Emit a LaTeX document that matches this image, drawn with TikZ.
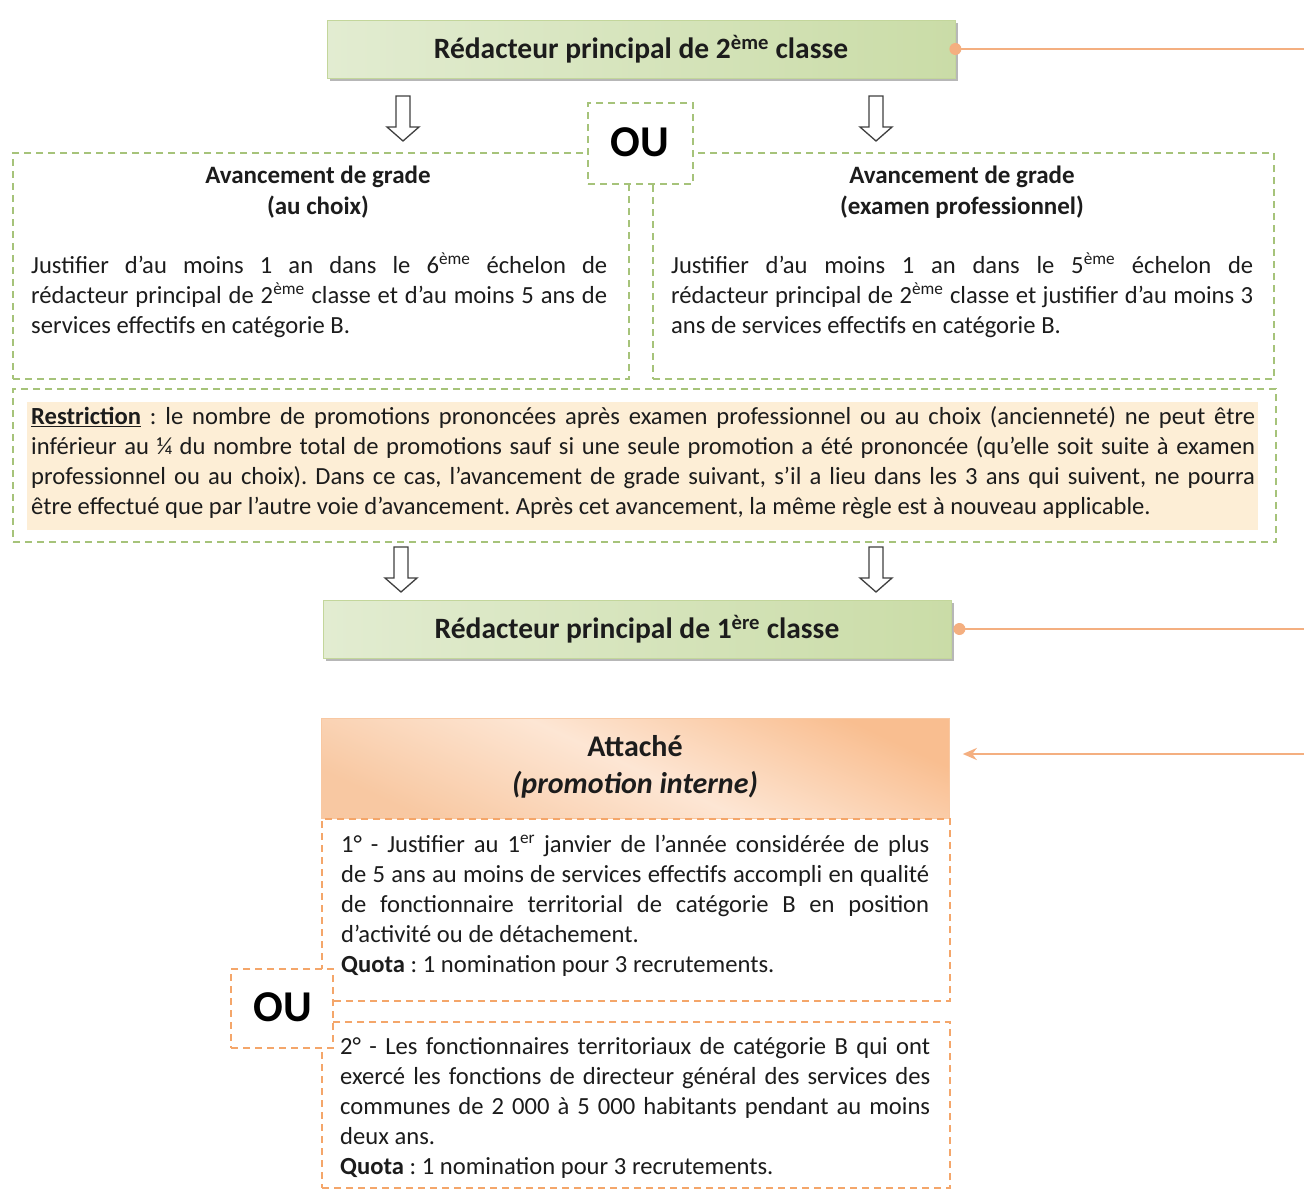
\documentclass[tikz,border=0pt]{standalone}
\usepackage{fontspec}
\setmainfont{Carlito}
\usetikzlibrary{arrows.meta,shadows}
\definecolor{gdashc}{HTML}{A6C37A}
\definecolor{odashc}{HTML}{F4A66A}
\definecolor{olinec}{HTML}{F4AF80}
\definecolor{txtc}{HTML}{1C1C1C}
\definecolor{gL}{HTML}{E2ECD1}
\definecolor{gM}{HTML}{EDF3E3}
\definecolor{gD}{HTML}{CADCA7}
\definecolor{gB}{HTML}{C3D69B}
\definecolor{oL}{HTML}{FDE6D4}
\definecolor{oD}{HTML}{F9BE90}
\definecolor{oB}{HTML}{F8C8A2}
\definecolor{restfill}{HTML}{FDEED6}
\newcommand\bodyfont{\fontsize{24.6}{30}\selectfont\frenchspacing\spaceskip=0.23em plus 1.2em minus 0.1em\relax}
\newcommand\titlefont{\fontsize{29.5}{30}\selectfont\bfseries}
\newcommand\attfont{\fontsize{30}{37}\selectfont\bfseries}
\newcommand\headfont{\fontsize{25}{31}\selectfont\bfseries}
\newcommand\oufont{\fontsize{44}{50}\selectfont\bfseries}
\tikzset{
  gframe/.style={rectangle, draw=gdashc, line width=2pt, dash pattern=on 7pt off 5pt, inner sep=0pt, anchor=north west},
  oframe/.style={rectangle, draw=odashc, line width=2pt, dash pattern=on 7pt off 5pt, inner sep=0pt, anchor=north west},
  gtitle/.style={rectangle, draw=gB, line width=0.8pt, inner sep=0pt, font=\titlefont, text=txtc,
    left color=gL, middle color=gM, right color=gD,
    drop shadow={shadow xshift=3pt, shadow yshift=-3pt, fill=black!35, opacity=0.8}},
  body/.style={font=\bodyfont, text=txtc, inner sep=0pt, align=justify, anchor=north west},
  head/.style={font=\headfont, text=txtc, inner sep=0pt, align=center},
  oline/.style={draw=olinec, line width=2.4pt},
  hollowdown/.pic={\draw[line width=1.3pt, draw=black!75, fill=white, line join=miter]
    (-7,0) -- (7,0) -- (7,31) -- (16,31) -- (0,45) -- (-16,31) -- (-7,31) -- cycle;}
}
\begin{document}
\begin{tikzpicture}[x=1pt,y=-1pt]
\useasboundingbox[fill=white] (0,0) rectangle (1304,1189);

% ---- top title
\node[gtitle, minimum width=628pt, minimum height=58pt] (r2) at (641,49)
  {Rédacteur principal de 2\textsuperscript{ème} classe};
\coordinate (r2out) at (1304,46);
\draw[oline] (r2.east) -- (r2.east -| r2out);
\fill[olinec] (r2.east) circle[radius=6pt];

% ---- arrows
\pic at (403,96) {hollowdown};
\pic at (876,96) {hollowdown};

% ---- two option boxes
\node[gframe, minimum width=616pt, minimum height=226pt] (lbox) at (12,152) {};
\node[gframe, minimum width=621pt, minimum height=226pt] (rbox) at (652,152) {};
\node[gframe, fill=white, minimum width=105pt, minimum height=81pt] (ou1) at (587,102) {};
\node[font=\oufont, text=black, inner sep=0pt] (ou1t) at (639.5,142.5) {OU};

\node[head] (lhead) at (318,192.5) {Avancement de grade\\(au choix)};
\node[head] (rhead) at (962,192.5) {Avancement de grade\\(examen professionnel)};

\node[body, text width=576pt] (ltext) at (31,252) {\strut Justifier d’au moins 1 an dans le 6\textsuperscript{ème} échelon de\linebreak
rédacteur principal de 2\textsuperscript{ème} classe et d’au moins 5 ans de\linebreak
services effectifs en catégorie B.};
\node[body, text width=582pt] (rtext) at (671,252) {\strut Justifier d’au moins 1 an dans le 5\textsuperscript{ème} échelon de\linebreak
rédacteur principal de 2\textsuperscript{ème} classe et justifier d’au moins 3\linebreak
ans de services effectifs en catégorie B.};

% ---- restriction
\node[gframe, minimum width=1263pt, minimum height=153pt] (rbox2) at (12,388) {};
\node[rectangle, fill=restfill, inner sep=0pt, minimum width=1231pt, minimum height=128pt, anchor=north west] (rfill) at (27,402) {};
\node[body, text width=1224pt] (rtxt) at (31,403) {\strut\underline{\textbf{Restriction}} : le nombre de promotions prononcées après examen professionnel ou au choix (ancienneté) ne peut être\linebreak
inférieur au ¼ du nombre total de promotions sauf si une seule promotion a été prononcée (qu’elle soit suite à examen\linebreak
professionnel ou au choix). Dans ce cas, l’avancement de grade suivant, s’il a lieu dans les 3 ans qui suivent, ne pourra\linebreak
être effectué que par l’autre voie d’avancement. Après cet avancement, la même règle est à nouveau applicable.};

\pic at (401,547) {hollowdown};
\pic at (876,547) {hollowdown};

% ---- second title
\node[gtitle, minimum width=628pt, minimum height=58pt] (r1) at (637,629)
  {Rédacteur principal de 1\textsuperscript{ère} classe};
\coordinate (r1out) at (1304,629);
\draw[oline] ([xshift=8pt]r1.east) -- (r1out);
\fill[olinec] ([xshift=8pt]r1.east) circle[radius=6pt];

% ---- attache
\node[rectangle, draw=oB, line width=0.8pt, inner sep=0pt, minimum width=628pt, minimum height=100pt,
  anchor=north west, top color=oD, bottom color=oB, middle color=oL, shading angle=-25] (att) at (321,718) {};
\node[font=\attfont, text=txtc, align=center, inner sep=0pt] (attt) at (635,766.5)
  {Attaché\\\textit{(promotion interne)}};
\coordinate (attin) at (1304,754);
\draw[oline, -{Stealth[length=14pt,width=12pt]}] (attin) -- ([xshift=13pt]attin -| att.east);

\node[oframe, minimum width=628pt, minimum height=182pt] (c1) at (321,818) {};
\node[oframe, minimum width=628pt, minimum height=166pt] (c2) at (321,1021) {};
\node[oframe, fill=white, minimum width=102pt, minimum height=79pt] (ou2) at (230,968) {};
\node[font=\oufont, text=black, inner sep=0pt] (ou2t) at (283,1007.5) {OU};

\node[body, text width=588pt] (c1t) at (341,831) {\strut 1° - Justifier au 1\textsuperscript{er} janvier de l’année considérée de plus\linebreak
de 5 ans au moins de services effectifs accompli en qualité\linebreak
de fonctionnaire territorial de catégorie B en position\linebreak
d’activité ou de détachement.\par
\textbf{Quota} : 1 nomination pour 3 recrutements.};
\node[body, text width=590pt] (c2t) at (340,1033) {\strut 2° - Les fonctionnaires territoriaux de catégorie B qui ont\linebreak
exercé les fonctions de directeur général des services des\linebreak
communes de 2~000 à 5~000 habitants pendant au moins\linebreak
deux ans.\par
\textbf{Quota} : 1 nomination pour 3 recrutements.};
\end{tikzpicture}
\end{document}
